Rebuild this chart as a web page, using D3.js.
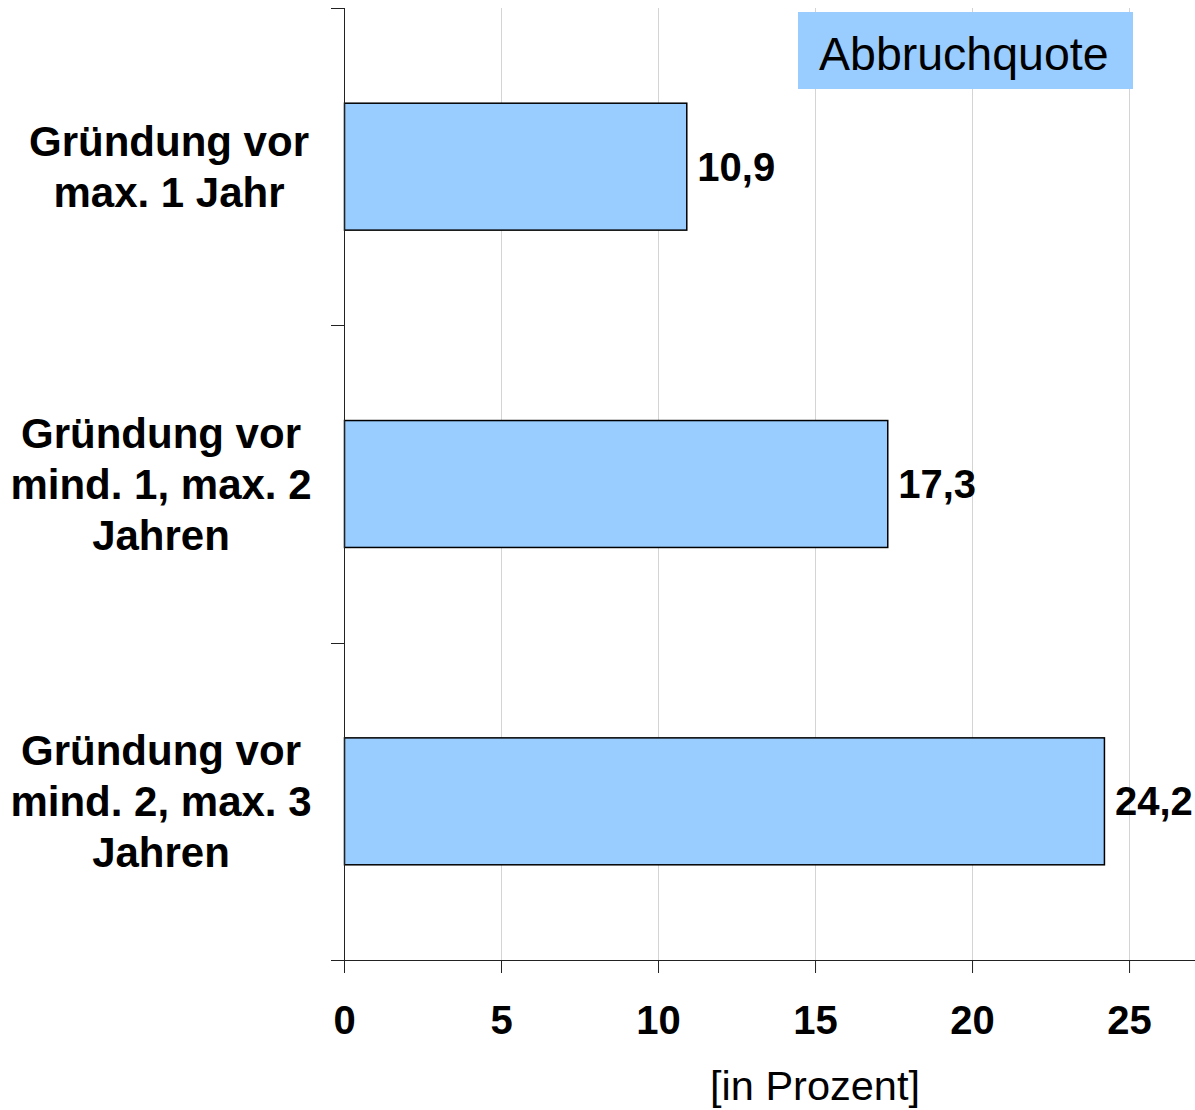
<!DOCTYPE html>
<html><head><meta charset="utf-8">
<script src="https://cdn.jsdelivr.net/npm/d3@7"></script>
<style>body{margin:0;background:#fff}svg{display:block;font-family:"Liberation Sans",Arial,sans-serif}</style>
</head><body>
<svg id="c" width="1195" height="1110"></svg>
<script>
const categories = [
  ["Gründung vor", "max. 1 Jahr"],
  ["Gründung vor", "mind. 1, max. 2", "Jahren"],
  ["Gründung vor", "mind. 2, max. 3", "Jahren"]
];
const values = [10.9, 17.3, 24.2];
const valueLabels = ["10,9", "17,3", "24,2"];
const xTicks = [0, 5, 10, 15, 20, 25];
const seriesName = "Abbruchquote";
const axisTitle = "[in Prozent]";

(function () {
const svg = d3.select("#c");
const plotLeft = 344, plotTop = 8, plotBottom = 960;
const x = d3.scaleLinear().domain([0, 27.1]).range([plotLeft, 1195]);
const y = d3.scaleBand().domain(d3.range(categories.length)).range([plotTop, plotBottom])
  .paddingInner(0.6).paddingOuter(0.3);

// gridlines
svg.append("g").selectAll("line").data(xTicks.filter(d => d > 0)).join("line")
  .attr("x1", d => Math.round(x(d)) + 0.5).attr("x2", d => Math.round(x(d)) + 0.5)
  .attr("y1", plotTop).attr("y2", plotBottom)
  .attr("stroke", "#d4d4d4").attr("stroke-width", 1);

// legend box
const lg = svg.append("g");
lg.append("rect").attr("x", 798).attr("y", 12).attr("width", 335).attr("height", 77).attr("fill", "#99ccff");
lg.append("text").attr("x", 819).attr("y", 70).attr("font-size", 46.5).attr("fill", "#000").text(seriesName);

// bars
svg.append("g").selectAll("rect").data(values).join("rect")
  .attr("x", x(0) + 0.5)
  .attr("y", (d, i) => y(i))
  .attr("width", d => x(d) - x(0))
  .attr("height", y.bandwidth())
  .attr("fill", "#99ccff").attr("stroke", "#000").attr("stroke-width", 1.5);

// value labels
svg.append("g").selectAll("text").data(values).join("text")
  .attr("x", d => x(d) + 11)
  .attr("y", (d, i) => y(i) + y.bandwidth() / 2 + 14)
  .attr("font-size", 40).attr("font-weight", "bold")
  .text((d, i) => valueLabels[i]);

// x axis
const xa = svg.append("g").attr("transform", `translate(0,${plotBottom})`)
  .call(d3.axisBottom(x).tickValues(xTicks).tickSize(13).tickSizeOuter(0).tickFormat(d3.format("d")));
xa.select(".domain").attr("stroke", "#222").attr("d", `M331,0.5H1195`);
xa.selectAll(".tick line").attr("stroke", "#222");
xa.selectAll(".tick text").attr("font-size", 40).attr("font-weight", "bold")
  .attr("font-family", "Liberation Sans, Arial, sans-serif").attr("fill", "#000")
  .attr("y", 74).attr("dy", 0);

// y axis
const boundaries = d3.range(categories.length + 1).map(i => plotTop + i * y.step());
const ya = svg.append("g");
ya.append("line").attr("x1", plotLeft + 0.5).attr("x2", plotLeft + 0.5).attr("y1", plotTop).attr("y2", plotBottom)
  .attr("stroke", "#222");
ya.selectAll("line.t").data(boundaries).join("line").attr("class", "t")
  .attr("x1", 331).attr("x2", plotLeft).attr("y1", d => Math.round(d) + 0.5).attr("y2", d => Math.round(d) + 0.5)
  .attr("stroke", "#222");

// category labels
const lineH = 51;
const cg = svg.append("g");
categories.forEach((lines, i) => {
  const cy = y(i) + y.bandwidth() / 2;
  const cx = lines.length === 2 ? 169 : 161;
  const t = cg.append("text").attr("text-anchor", "middle").attr("font-size", 42).attr("font-weight", "bold");
  lines.forEach((l, j) => {
    t.append("tspan").attr("x", cx)
      .attr("y", cy + (j - (lines.length - 1) / 2) * lineH + 15).text(l);
  });
});

// axis title
svg.append("text").attr("x", 815).attr("y", 1100).attr("text-anchor", "middle")
  .attr("font-size", 41.5).text(axisTitle);
})();
</script>
</body></html>
